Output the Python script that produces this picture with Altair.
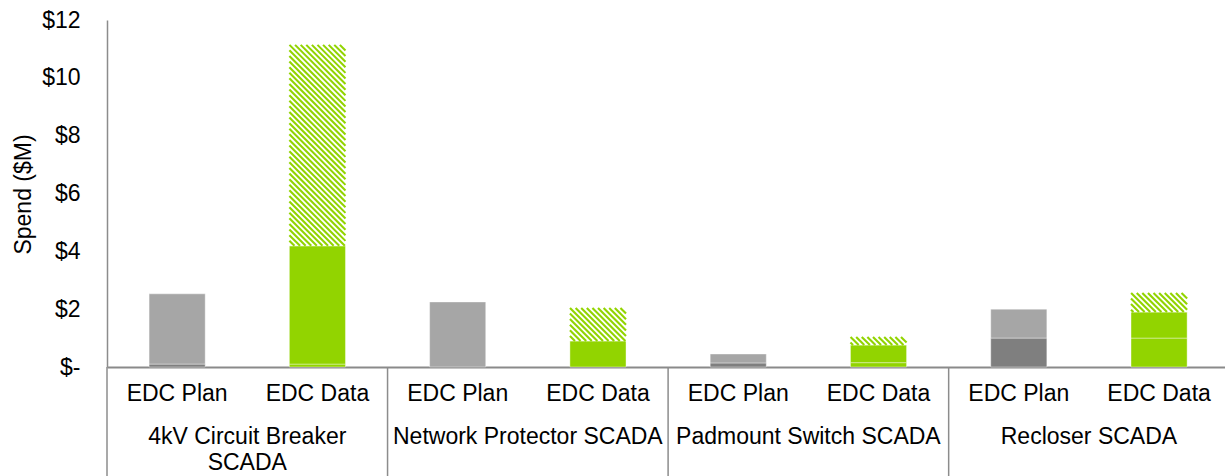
import altair as alt
import pandas as pd

# ---------------- data ----------------
groups = ["4kV Circuit Breaker SCADA", "Network Protector SCADA",
          "Padmount Switch SCADA", "Recloser SCADA"]
group_line1 = ["4kV Circuit Breaker", "Network Protector SCADA",
               "Padmount Switch SCADA", "Recloser SCADA"]
group_line2 = ["SCADA", "", "", ""]
types = ["EDC Plan", "EDC Data"]

plan_dark = [0.10, 0.00, 0.14, 1.00]
plan_light = [2.43, 2.25, 0.31, 1.00]
data_base = [0.10, 0.00, 0.15, 1.00]
data_solid = [4.09, 0.90, 0.61, 0.90]
data_hatch = [6.95, 1.14, 0.28, 0.66]

y_ticks = [0, 2, 4, 6, 8, 10, 12]

# ---------------- layout ----------------
W, H = 1118, 347
XMAX = 7.97
BAR_HALF = 0.2
kx = W / XMAX
ky = H / 12.0
FONT = "Liberation Sans"
FS = 23

segs = []
for gi, g in enumerate(groups):
    # plan bar
    pos = gi * 2 + 0.5
    cum = 0.0
    for kind, v in (("dark", plan_dark[gi]), ("light", plan_light[gi])):
        if v > 0:
            segs.append(dict(x0=pos - BAR_HALF, x1=pos + BAR_HALF, y0=cum, y1=cum + v, kind=kind))
        cum += v
    # data bar
    pos = gi * 2 + 1.5
    cum = 0.0
    for kind, v in (("green", data_base[gi]), ("green", data_solid[gi]), ("hatch", data_hatch[gi])):
        if v > 0:
            segs.append(dict(x0=pos - BAR_HALF, x1=pos + BAR_HALF, y0=cum, y1=cum + v, kind=kind))
        cum += v
seg_df = pd.DataFrame(segs)

# hatch lines (diagonal "\" stripes) derived from hatched segments
lines = []
period = 5.6
for s in segs:
    if s["kind"] != "hatch":
        continue
    Wp = (s["x1"] - s["x0"]) * kx
    Hp = (s["y1"] - s["y0"]) * ky
    c = -Wp
    while c < Hp:
        u0 = max(0.0, -c)
        u1 = min(Wp, Hp - c)
        if u1 > u0:
            lines.append(dict(
                xa=s["x0"] + u0 / kx, ya=s["y1"] - (u0 + c) / ky,
                xb=s["x0"] + u1 / kx, yb=s["y1"] - (u1 + c) / ky))
        c += period
line_df = pd.DataFrame(lines)

type_df = pd.DataFrame([dict(x=gi * 2 + ti + 0.5, t=t)
                        for gi in range(len(groups)) for ti, t in enumerate(types)])
g1_df = pd.DataFrame(dict(x=[gi * 2 + 1.0 for gi in range(len(groups))], t=group_line1))
g2_df = pd.DataFrame(dict(x=[gi * 2 + 1.0 for gi in range(len(groups))], t=group_line2))
sep_df = pd.DataFrame(dict(x=[gi * 2.0 for gi in range(len(groups))]))

xscale = alt.Scale(domain=[0, XMAX], nice=False, zero=False)
yscale = alt.Scale(domain=[0, 12], nice=False)

xaxis = alt.Axis(labels=False, ticks=False, grid=False, title=None,
                 domainColor="#8a8a8a", domainWidth=2)
yaxis = alt.Axis(values=y_ticks, grid=False, ticks=False, title="Spend ($M)",
                 labelExpr="datum.value == 0 ? '$-' : '$' + datum.value",
                 labelFont=FONT, labelFontSize=FS, labelColor="#000000",
                 labelPadding=27, domainColor="#8c8c8c", domainWidth=1.5,
                 titleFont=FONT, titleFontSize=FS, titleFontWeight="normal",
                 titleColor="#000000", titleX=-84, titleY=174, titleBaseline="middle")

bars = alt.Chart(seg_df).mark_rect(stroke="white", strokeOpacity=0.4, strokeWidth=1).encode(
    x=alt.X("x0:Q", scale=xscale, axis=xaxis),
    x2="x1:Q",
    y=alt.Y("y0:Q", scale=yscale, axis=yaxis),
    y2="y1:Q",
    color=alt.Color("kind:N", legend=None,
                    scale=alt.Scale(domain=["dark", "light", "green", "hatch"],
                                    range=["#7f7f7f", "#a6a6a6", "#92d400", "#ffffff"])),
)

hatch = alt.Chart(line_df).mark_rule(color="#92d400", strokeWidth=2.1).encode(
    x=alt.X("xa:Q", scale=xscale), x2="xb:Q",
    y=alt.Y("ya:Q", scale=yscale), y2="yb:Q",
)

seps = alt.Chart(sep_df).mark_rule(color="#8c8c8c", strokeWidth=1.5).encode(
    x=alt.X("x:Q", scale=xscale),
    y=alt.value(H), y2=alt.value(H + 109),
)

type_labels = alt.Chart(type_df).mark_text(font=FONT, fontSize=FS, color="#000000",
                                           baseline="middle").encode(
    x=alt.X("x:Q", scale=xscale), y=alt.value(H + 27), text="t:N")

g1_labels = alt.Chart(g1_df).mark_text(font=FONT, fontSize=FS, color="#000000",
                                       baseline="middle").encode(
    x=alt.X("x:Q", scale=xscale), y=alt.value(H + 70), text="t:N")

g2_labels = alt.Chart(g2_df).mark_text(font=FONT, fontSize=FS, color="#000000",
                                       baseline="middle").encode(
    x=alt.X("x:Q", scale=xscale), y=alt.value(H + 96), text="t:N")

chart = alt.layer(bars, hatch, seps, type_labels, g1_labels, g2_labels).properties(
    width=W, height=H,
    autosize=alt.AutoSizeParams(type="none"),
    padding={"left": 107, "top": 20, "right": 0, "bottom": 109},
).configure_view(stroke=None)

chart.save("out.html", embed_options={"renderer": "svg", "actions": False})
